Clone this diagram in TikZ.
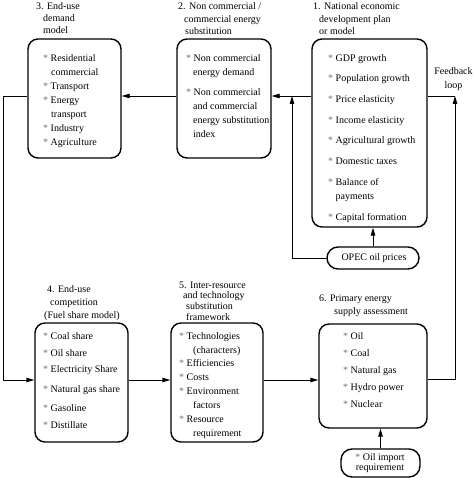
\documentclass[tikz,border=0pt]{standalone}
\usepackage{fontspec}
\setmainfont{Liberation Serif}
\usetikzlibrary{arrows.meta}
\newcommand{\itm}{{\color{black!55}*}\ }
\begin{document}
\begin{tikzpicture}[x=1pt,y=-1pt,
  box/.style={draw,line width=1.4pt,rounded corners=10pt,inner sep=0pt,rectangle},
  txt/.style={anchor=north west,inner sep=0pt,align=left,font=\fontsize{10}{14}\selectfont},
  hdr/.style={anchor=north west,inner sep=0pt,align=left},
  conn/.style={line width=0.9pt},
  arr/.style={conn,-{Triangle[length=8pt,width=4.5pt]}}]
\useasboundingbox (0,0) rectangle (473,478);
% boxes
\node[box,minimum width=93pt,minimum height=119pt] (b3) at (74.5,98.5) {};
\node[box,minimum width=94pt,minimum height=119pt] (b2) at (224,98.5) {};
\node[box,minimum width=115pt,minimum height=188pt] (b1) at (369.5,133) {};
\node[box,rounded corners=11pt,minimum width=92pt,minimum height=22pt] (opec) at (373,258) {};
\node[box,minimum width=93pt,minimum height=119pt] (b4) at (81.5,382.5) {};
\node[box,minimum width=92pt,minimum height=119pt] (b5) at (217,382.5) {};
\node[box,minimum width=108pt,minimum height=104pt] (b6) at (373,376) {};
\node[box,rounded corners=11pt,minimum width=79pt,minimum height=28pt] (oil) at (380.5,463) {};
% texts in boxes
\node[txt] (t3) at (43,54) {\itm Residential\\
  \hspace*{8pt}commercial\\
  \itm Transport\\
  \itm Energy\\
  \hspace*{8pt}transport\\
  \itm Industry\\
  \itm Agriculture};
\node[txt] (t2) at (186,54) {\itm Non commercial\\
  \hspace*{7pt}energy demand\\[6pt]
  \itm Non commercial\\
  \hspace*{7pt}and commercial\\
  \hspace*{7pt}energy substitution\\
  \hspace*{7pt}index};
\node[txt] (t1) at (328,54) {\itm GDP growth\\[6.7pt]
  \itm Population growth\\[6.7pt]
  \itm Price elasticity\\[6.7pt]
  \itm Income elasticity\\[6.7pt]
  \itm Agricultural growth\\[6.7pt]
  \itm Domestic taxes\\[6.7pt]
  \itm Balance of\\
  \hspace*{7.5pt}payments\\[6.7pt]
  \itm Capital formation};
\node[anchor=center,inner sep=0pt,font=\fontsize{10}{12}\selectfont] (topec) at (374,258) {OPEC oil prices};
\node[txt] (t4) at (43,332) {\itm Coal share\\[3pt]
  \itm Oil share\\[2pt]
  \itm Electricity Share\\[6pt]
  \itm Natural gas share\\[5pt]
  \itm Gasoline\\[3pt]
  \itm Distillate};
\node[txt,font=\fontsize{10}{13.9}\selectfont] (t5) at (179,332) {\itm Technologies\\
  \hspace*{14pt}(characters)\\
  \itm Efficiencies\\
  \itm Costs\\
  \itm Environment\\
  \hspace*{14pt}factors\\
  \itm Resource\\
  \hspace*{14pt}requirement};
\node[txt] (t6) at (343,332) {\itm Oil\\[3pt]
  \itm Coal\\[3pt]
  \itm Natural gas\\[3.5pt]
  \itm Hydro power\\[3pt]
  \itm Nuclear};
\node[inner sep=0pt,align=center,font=\fontsize{10}{10.5}\selectfont] (toil) at (380,463) {\itm Oil import\\requirement};
% headers
\node[hdr,font=\fontsize{10}{11.8}\selectfont] (h3) at (36,2.5) {3. End-use\\\hspace*{7pt}demand\\\hspace*{7pt}model};
\node[hdr,font=\fontsize{10}{12.5}\selectfont] (h2) at (178,2.5) {2. Non commercial /\\\hspace*{6pt}commercial energy\\\hspace*{7pt}substitution};
\node[hdr,font=\fontsize{10}{12.5}\selectfont] (h1) at (313,2.5) {1. National economic\\\hspace*{6pt}development plan\\\hspace*{6pt}or model};
\node[hdr,font=\fontsize{10}{13}\selectfont] (h4) at (44,285.5) {\hspace*{3pt}4. End-use\\\hspace*{6pt}competition\\(Fuel share model)};
\node[hdr,font=\fontsize{10}{10.7}\selectfont] (h5) at (179,281.5) {5. Inter-resource\\\hspace*{4pt}and technology\\\hspace*{7pt}substitution\\\hspace*{7pt}framework};
\node[hdr,font=\fontsize{10}{13}\selectfont] (h6) at (319,294.5) {6. Primary energy\\\hspace*{15pt}supply assessment};
\node[inner sep=0pt,align=center,font=\fontsize{10}{14}\selectfont] (hfb) at (453.5,79) {Feedback\\loop};
% coordinates
\coordinate (j12) at (292,96);
\coordinate (fb) at (455,96);
\coordinate (fbb) at (455,379);
\coordinate (l1) at (3,96);
\coordinate (l2) at (3,380);
% connectors
\draw[arr] (b1.west |- j12) -- (b2.east |- j12);
\draw[arr] (b2.west |- j12) -- (b3.east |- j12);
\draw[arr] (opec.west) -| (j12);
\draw[arr] (opec.north) -- (opec.north |- b1.south);
\draw[conn] (b1.east |- fb) -- (fb);
\draw[arr] (b6.east |- fbb) -- (fbb) -- (fb);
\draw[arr] (b3.west |- l1) -- (l1) -- (l2) -- (b4.west |- l2);
\draw[arr] (b4.east |- l2) -- (b5.west |- l2);
\draw[arr] (b5.east |- l2) -- (b6.west |- l2);
\draw[arr] (oil.north) -- (oil.north |- b6.south);
\end{tikzpicture}
\end{document}
